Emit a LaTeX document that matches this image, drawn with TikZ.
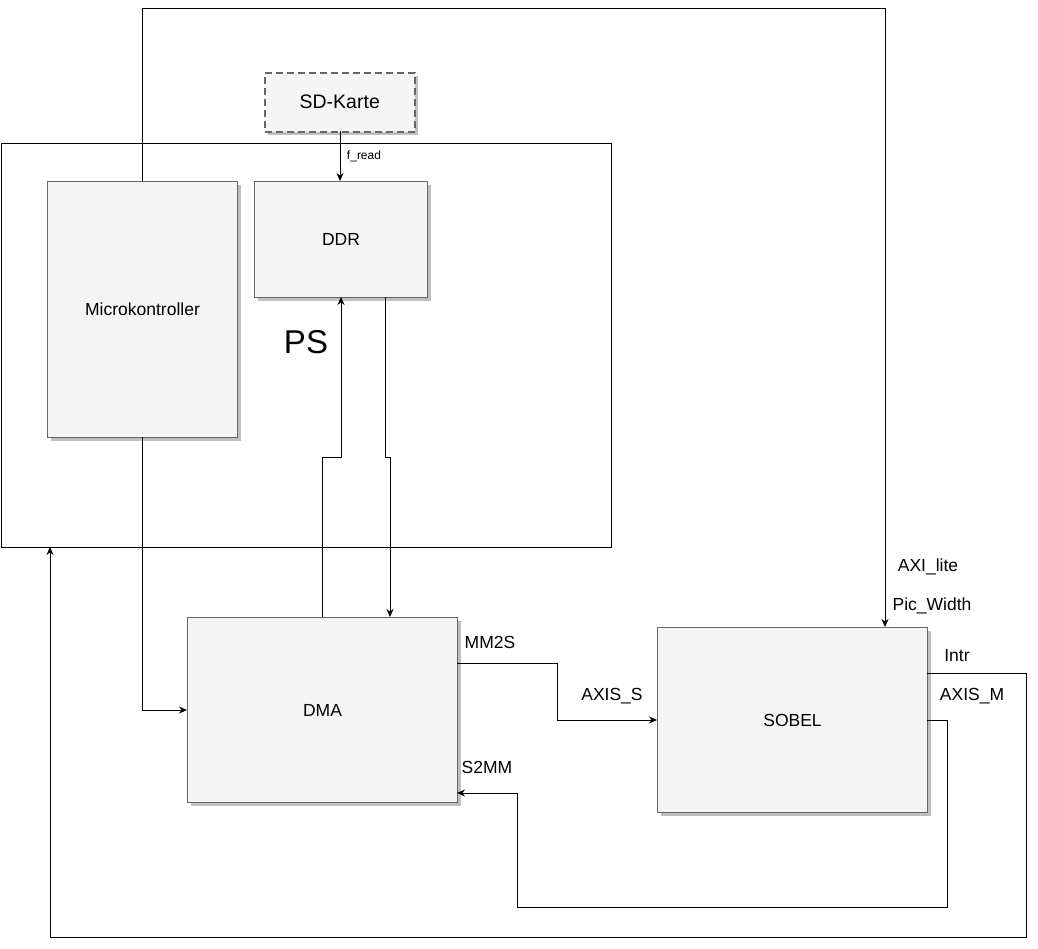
\documentclass[tikz,border=0pt]{standalone}
\usepackage{fontspec}
\setmainfont{Liberation Sans}
\usetikzlibrary{arrows.meta,shadows}
\definecolor{boxfill}{HTML}{F5F5F5}
\definecolor{boxline}{HTML}{666666}
\tikzset{
  blk/.style={draw=boxline, fill=boxfill, line width=1pt, inner sep=0pt,
    drop shadow={shadow xshift=3pt, shadow yshift=-3pt, fill=black!25, opacity=1},
    font=\fontsize{17.5}{20}\selectfont},
  conn/.style={draw=black, line width=0.9pt, -{Stealth[length=8pt,width=7pt]}},
  lbl/.style={font=\fontsize{17.5}{20}\selectfont, inner sep=0pt}
}
\begin{document}
\begin{tikzpicture}[x=1pt,y=-1pt]
\useasboundingbox (0,0) rectangle (1038,948);
% PS frame
\node[draw=black, line width=0.9pt, minimum width=610pt, minimum height=404pt, inner sep=0pt, anchor=north west] (ps) at (1,143) {};
\node[font=\fontsize{33}{38}\selectfont, inner sep=0pt] (pslbl) at (306,342) {PS};
% blocks
\node[blk, anchor=north west, minimum width=150pt, minimum height=59pt, dashed, dash pattern=on 7pt off 4pt, line width=1.5pt, font=\fontsize{19.5}{22}\selectfont] (sd) at (264,72) {SD-Karte};
\node[blk, anchor=north west, minimum width=173pt, minimum height=116pt] (ddr) at (254,181) {DDR};
\node[blk, anchor=north west, minimum width=190pt, minimum height=256pt] (mc) at (47,181) {Microkontroller};
\node[blk, anchor=north west, minimum width=270pt, minimum height=185pt] (dma) at (187,617) {DMA};
\node[blk, anchor=north west, minimum width=270pt, minimum height=185pt] (sob) at (657,627) {SOBEL};
% coordinates
\coordinate (mctop) at (142,181);
\coordinate (sobtop) at (885,627);
\coordinate (sdbot) at (340,131);
\coordinate (ddrtop) at (340,181);
\coordinate (dmaup) at (322,617);
\coordinate (ddrbotin) at (341,297);
\coordinate (ddrbotout) at (385,297);
\coordinate (dmadown) at (390,617);
\coordinate (mcbot) at (142,437);
\coordinate (dmaleft) at (187,710);
\coordinate (sobintr) at (927,673);
\coordinate (psbot) at (50,547);
\coordinate (dmamm2s) at (457,663);
\coordinate (sobin) at (657,720);
\coordinate (sobout) at (927,720);
\coordinate (dmas2mm) at (457,793);
% connectors
\draw[conn] (mctop) -- (142,8) -- (885,8) -- (sobtop);
\draw[conn] (sdbot) -- (ddrtop);
\draw[conn] (dmaup) -- (322,457) -- (341,457) -- (ddrbotin);
\draw[conn] (ddrbotout) -- (385,457) -- (390,457) -- (dmadown);
\draw[conn] (mcbot) -- (142,710) -- (dmaleft);
\draw[conn] (sobintr) -- (1026,673) -- (1026,937) -- (50,937) -- (psbot);
\draw[conn] (dmamm2s) -- (557,663) -- (557,720) -- (sobin);
\draw[conn] (sobout) -- (947,720) -- (947,907) -- (517,907) -- (517,793) -- (dmas2mm);
% labels
\node[font=\fontsize{12}{14}\selectfont, inner sep=0pt] (fread) at (364,156) {f\_read};
\node[lbl] (axilite) at (928,567) {AXI\_lite};
\node[lbl] (picw) at (932,606) {Pic\_Width};
\node[lbl] (intr) at (957,656) {Intr};
\node[lbl] (axism) at (972,696) {AXIS\_M};
\node[lbl] (mm2s) at (490,642) {MM2S};
\node[lbl] (axiss) at (612,696) {AXIS\_S};
\node[lbl] (s2mm) at (487,767) {S2MM};
\end{tikzpicture}
\end{document}
